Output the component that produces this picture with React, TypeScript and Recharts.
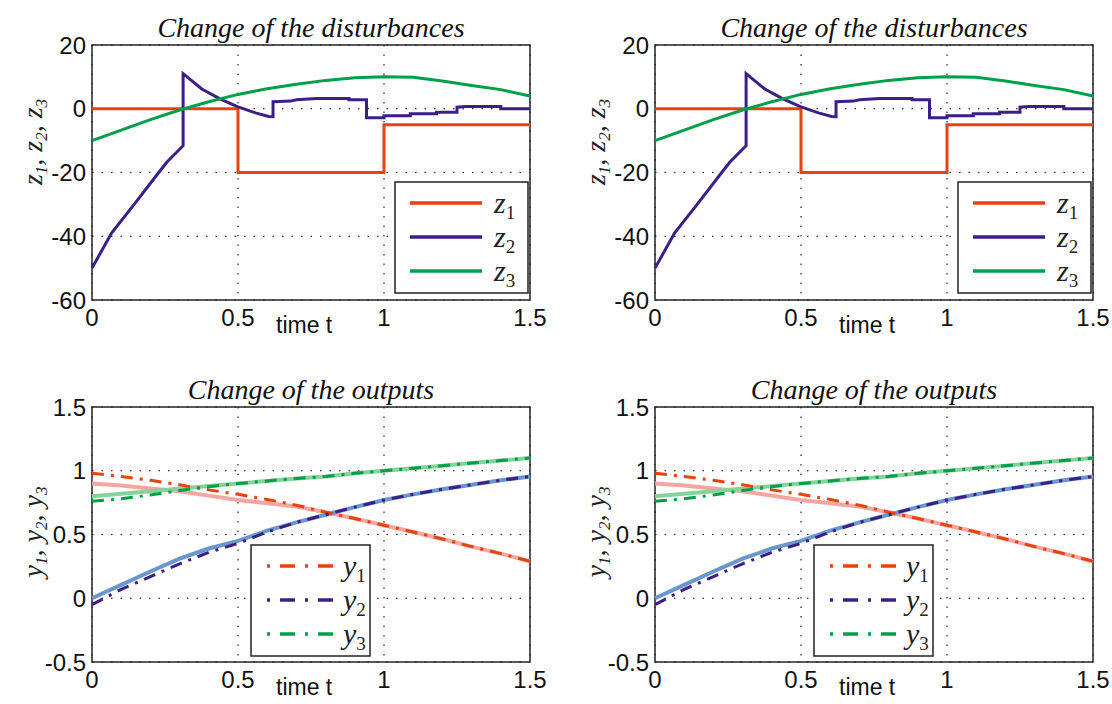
import React from "react";
import {
    LineChart,
    Line,
    XAxis,
    YAxis,
    CartesianGrid,
    ReferenceArea,
} from "recharts";

// time grid for the output curves
const timeSteps = [0, 0.1, 0.2, 0.3, 0.4, 0.5, 0.6, 0.7, 0.8, 0.9, 1.0, 1.1, 1.2, 1.3, 1.4, 1.5];

// disturbances
const z1Time = [0, 0.5, 0.5, 1.0, 1.0, 1.5];
const z1Values = [0, 0, -20, -20, -5, -5];

const z2Time = [
    0, 0.067, 0.147, 0.216, 0.256, 0.312, 0.312, 0.376, 0.44, 0.5, 0.56, 0.605, 0.62, 0.62,
    0.68, 0.7, 0.77, 0.88, 0.88, 0.94, 0.94, 1.0, 1.0, 1.09, 1.09, 1.18, 1.18, 1.25, 1.25,
    1.28, 1.4, 1.4, 1.5,
];
const z2Values = [
    -50, -39, -29.7, -21.5, -16.8, -11.6, 11, 6.2, 3, 0.6, -1.3, -2.4, -2.5, 2.2,
    2.4, 2.8, 3.2, 3.2, 2.8, 2.8, -2.8, -2.8, -2.2, -2.2, -1.6, -1.6, -1.1, -1.1, 0.5,
    0.7, 0.7, 0, 0,
];

const z3Values = [-10, -6.7, -3.4, -0.4, 2.2, 4.5, 6.3, 7.7, 8.9, 9.7, 10, 9.9, 8.7, 7.3, 6.0, 4.0];

// outputs and their reference trajectories
const y1Ref = [0.9, 0.885, 0.86, 0.84, 0.805, 0.77, 0.745, 0.72, 0.675, 0.625, 0.573, 0.52, 0.465, 0.405, 0.35, 0.29];
const y1Values = [0.98, 0.955, 0.925, 0.89, 0.85, 0.815, 0.775, 0.73, 0.675, 0.625, 0.573, 0.52, 0.465, 0.405, 0.35, 0.29];
const y2Ref = [0, 0.105, 0.21, 0.31, 0.39, 0.45, 0.53, 0.595, 0.655, 0.715, 0.77, 0.815, 0.855, 0.89, 0.925, 0.955];
const y2Values = [-0.05, 0.07, 0.17, 0.27, 0.36, 0.43, 0.52, 0.595, 0.655, 0.715, 0.77, 0.815, 0.855, 0.89, 0.925, 0.955];
const y3Ref = [0.8, 0.82, 0.84, 0.86, 0.88, 0.9, 0.92, 0.94, 0.955, 0.98, 1.0, 1.02, 1.04, 1.06, 1.08, 1.1];
const y3Values = [0.76, 0.78, 0.81, 0.845, 0.875, 0.9, 0.92, 0.94, 0.955, 0.98, 1.0, 1.02, 1.04, 1.06, 1.08, 1.1];

const xTicks = [0, 0.5, 1, 1.5];
const zTicks = [-60, -40, -20, 0, 20];
const yTicks = [-0.5, 0, 0.5, 1, 1.5];

const RED = "#E8420E";
const PURPLE = "#3B1E86";
const GREEN = "#00A04A";
const DASH = "12 7 3 7";

const zip = (t: number[], v: number[]) => t.map((x, i) => ({ t: x, v: v[i] }));

const W = 560;
const H = 340;
const MARGIN = { top: 45, right: 30, bottom: 10, left: 32 };
const tickFont = { fontFamily: "'Liberation Sans', Arial, sans-serif", fontSize: 24, fill: "#111" };
const serif = "'Liberation Serif', 'Times New Roman', serif";

type Entry = { name: string; color: string; dashed: boolean };

// text + legend drawn over a panel
const Overlay = ({
    title,
    letter,
    labelY,
    labelSize,
    entries,
    box,
}: {
    title: string;
    letter: string;
    labelY: number;
    labelSize: number;
    entries: Entry[];
    box: { x: number; y: number; w: number; h: number; lx1: number; lx2: number; tx: number };
}) => (
    <svg width={W} height={H} style={{ position: "absolute", left: 0, top: 0, pointerEvents: "none" }}>
        <text x={311} y={37} textAnchor="middle" fontFamily={serif} fontStyle="italic" fontSize={28} fill="#111">
            {title}
        </text>
        <text
            transform={`translate(42,${labelY}) rotate(-90)`}
            textAnchor="middle"
            fontFamily={serif}
            fontStyle="italic"
            fontSize={labelSize}
            fill="#222"
        >
            {letter}<tspan fontSize={17} dy={5}>1</tspan>
            <tspan dy={-5}>, {letter}</tspan><tspan fontSize={17} dy={5}>2</tspan>
            <tspan dy={-5}>, {letter}</tspan><tspan fontSize={17} dy={5}>3</tspan>
        </text>
        <text x={276} y={333} fontFamily="'Liberation Sans', Arial, sans-serif" fontSize={23} fill="#111">
            time t
        </text>
        <rect x={box.x} y={box.y} width={box.w} height={box.h} fill="#fff" stroke="#222" strokeWidth={1.5} />
        {entries.map((e, i) => {
            const cy = box.y + 21 + i * 34;
            return (
                <g key={e.name}>
                    <line
                        x1={box.lx1}
                        x2={box.lx2}
                        y1={cy}
                        y2={cy}
                        stroke={e.color}
                        strokeWidth={3.5}
                        strokeDasharray={e.dashed ? "3 10 15 10" : undefined}
                    />
                    <text x={box.tx} y={cy + 10} fontFamily={serif} fontStyle="italic" fontSize={30} fill="#222">
                        {letter}
                        <tspan fontSize={19} fontStyle="normal" dy={6}>{e.name}</tspan>
                    </text>
                </g>
            );
        })}
    </svg>
);

const DisturbancePanel = ({ left, top }: { left: number; top: number }) => (
    <div style={{ position: "absolute", left, top, width: W, height: H }}>
        <LineChart width={W} height={H} margin={MARGIN}>
            <CartesianGrid stroke="#000" strokeDasharray="1.5 8" />
            <XAxis
                dataKey="t"
                type="number"
                domain={[0, 1.5]}
                ticks={xTicks}
                height={30}
                axisLine={false}
                tickLine={false}
                tickSize={4}
                tickMargin={5}
                tick={tickFont}
            />
            <YAxis
                type="number"
                domain={[-60, 20]}
                ticks={zTicks}
                width={60}
                axisLine={false}
                tickLine={false}
                tickSize={2}
                tickMargin={4}
                tick={tickFont}
            />
            <ReferenceArea x1={0} x2={1.5} y1={-60} y2={20} fill="none" stroke="#222" strokeWidth={1.5} />
            <Line data={zip(z1Time, z1Values)} dataKey="v" stroke={RED} strokeWidth={3} dot={false} isAnimationActive={false} />
            <Line data={zip(z2Time, z2Values)} dataKey="v" stroke={PURPLE} strokeWidth={3} dot={false} isAnimationActive={false} />
            <Line data={zip(timeSteps, z3Values)} dataKey="v" stroke={GREEN} strokeWidth={3} dot={false} isAnimationActive={false} />
        </LineChart>
        <Overlay
            title="Change of the disturbances"
            letter="z"
            labelY={142}
            labelSize={28}
            entries={[
                { name: "1", color: RED, dashed: false },
                { name: "2", color: PURPLE, dashed: false },
                { name: "3", color: GREEN, dashed: false },
            ]}
            box={{ x: 395, y: 182, w: 133, h: 111, lx1: 410, lx2: 482, tx: 494 }}
        />
    </div>
);

const OutputPanel = ({ left, top }: { left: number; top: number }) => (
    <div style={{ position: "absolute", left, top, width: W, height: H }}>
        <LineChart width={W} height={H} margin={MARGIN}>
            <CartesianGrid stroke="#000" strokeDasharray="1.5 8" />
            <XAxis
                dataKey="t"
                type="number"
                domain={[0, 1.5]}
                ticks={xTicks}
                height={30}
                axisLine={false}
                tickLine={false}
                tickSize={4}
                tickMargin={5}
                tick={tickFont}
            />
            <YAxis
                type="number"
                domain={[-0.5, 1.5]}
                ticks={yTicks}
                width={60}
                axisLine={false}
                tickLine={false}
                tickSize={2}
                tickMargin={4}
                tick={tickFont}
            />
            <ReferenceArea x1={0} x2={1.5} y1={-0.5} y2={1.5} fill="none" stroke="#222" strokeWidth={1.5} />
            <Line data={zip(timeSteps, y1Ref)} dataKey="v" stroke="#F4A6A0" strokeWidth={4} dot={false} isAnimationActive={false} />
            <Line data={zip(timeSteps, y2Ref)} dataKey="v" stroke="#6A96CE" strokeWidth={4} dot={false} isAnimationActive={false} />
            <Line data={zip(timeSteps, y3Ref)} dataKey="v" stroke="#86D39A" strokeWidth={4} dot={false} isAnimationActive={false} />
            <Line data={zip(timeSteps, y1Values)} dataKey="v" stroke={RED} strokeWidth={3} strokeDasharray={DASH} dot={false} isAnimationActive={false} />
            <Line data={zip(timeSteps, y2Values)} dataKey="v" stroke={PURPLE} strokeWidth={3} strokeDasharray={DASH} dot={false} isAnimationActive={false} />
            <Line data={zip(timeSteps, y3Values)} dataKey="v" stroke={GREEN} strokeWidth={3} strokeDasharray={DASH} dot={false} isAnimationActive={false} />
        </LineChart>
        <Overlay
            title="Change of the outputs"
            letter="y"
            labelY={170}
            labelSize={28}
            entries={[
                { name: "1", color: RED, dashed: true },
                { name: "2", color: PURPLE, dashed: true },
                { name: "3", color: GREEN, dashed: true },
            ]}
            box={{ x: 251, y: 183, w: 119, h: 111, lx1: 267, lx2: 336, tx: 343 }}
        />
    </div>
);

export default function App() {
    return (
        <div
            style={{
                position: "absolute",
                left: 0,
                top: 0,
                width: 1112,
                height: 704,
                overflow: "hidden",
                background: "#fff",
            }}
        >
            <DisturbancePanel left={0} top={0} />
            <DisturbancePanel left={563} top={0} />
            <OutputPanel left={0} top={362} />
            <OutputPanel left={563} top={362} />
        </div>
    );
}
